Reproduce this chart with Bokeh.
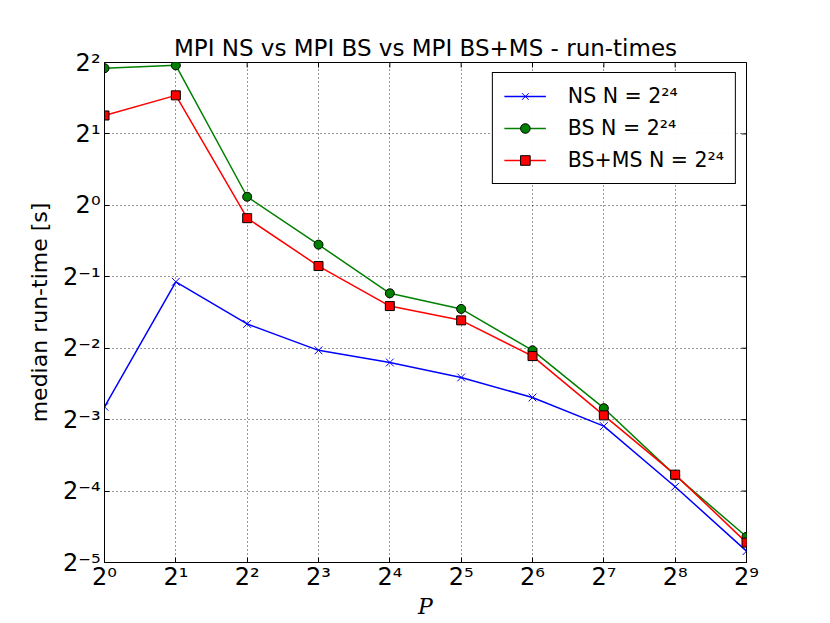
import math
from bokeh.plotting import figure
from bokeh.models import FixedTicker, CustomJSTickFormatter, Legend, LegendItem, ColumnDataSource
from bokeh.embed import file_html
from bokeh.resources import INLINE

# Data (median run-times in seconds)
P = [1, 2, 4, 8, 16, 32, 64, 128, 256, 512]
ns_times = [0.1416, 0.4763, 0.3164, 0.2449, 0.2176, 0.1882, 0.1550, 0.1174, 0.0652, 0.0349]
bs_times = [3.784, 3.891, 1.087, 0.683, 0.426, 0.366, 0.2449, 0.1397, 0.0728, 0.0401]
bsms_times = [2.392, 2.908, 0.883, 0.555, 0.3763, 0.3276, 0.2316, 0.1303, 0.0733, 0.0379]

x_ticks = [1, 2, 4, 8, 16, 32, 64, 128, 256, 512]
y_ticks = [2 ** -5, 2 ** -4, 2 ** -3, 2 ** -2, 2 ** -1, 1, 2, 4]

title_text = "MPI NS vs MPI BS vs MPI BS+MS - run-times"
x_label = "P"
y_label = "median run-time [s]"
labels = ["NS N = 2²⁴", "BS N = 2²⁴", "BS+MS N = 2²⁴"]

FONT = "DejaVu Sans"

p = figure(width=830, height=623, x_axis_type="log", y_axis_type="log",
           x_range=(x_ticks[0], x_ticks[-1]), y_range=(y_ticks[0], y_ticks[-1]),
           output_backend="svg", toolbar_location=None,
           min_border_left=104, min_border_right=84, min_border_top=62, min_border_bottom=61)

p.title.text = title_text
p.title.align = "center"
p.title.text_font = FONT
p.title.text_font_size = "23px"
p.title.text_font_style = "normal"
p.title.text_color = "black"
p.title.standoff = 4

fmt = CustomJSTickFormatter(code="""
const sup = {'0':'\u2070','1':'\u00b9','2':'\u00b2','3':'\u00b3','4':'\u2074','5':'\u2075','6':'\u2076','7':'\u2077','8':'\u2078','9':'\u2079','-':'\u207b'};
const e = Math.round(Math.log2(tick));
return '2' + String(e).split('').map(c => sup[c]).join('');
""")

for ax, ticks in ((p.xaxis[0], x_ticks), (p.yaxis[0], y_ticks)):
    ax.ticker = FixedTicker(ticks=ticks)
    ax.formatter = fmt
    ax.major_label_text_font = FONT
    ax.major_label_text_font_size = "24px"
    ax.major_label_text_color = "black"
    ax.major_tick_in = 5
    ax.major_tick_out = 0
    ax.minor_tick_line_color = None
    ax.axis_line_color = "black"
    ax.major_tick_line_color = "black"
    ax.axis_label_text_font_size = "22px"
    ax.axis_label_text_color = "black"

p.xaxis.axis_label = x_label
p.xaxis.axis_label_text_font = "DejaVu Serif"
p.xaxis.axis_label_text_font_style = "italic"
p.xaxis.major_label_standoff = 0
p.xaxis.axis_label_standoff = 0
p.yaxis.axis_label = y_label
p.yaxis.axis_label_text_font = FONT
p.yaxis.axis_label_text_font_style = "normal"
p.yaxis.major_label_standoff = 4
p.yaxis.axis_label_standoff = 8
p.yaxis.major_label_orientation = "horizontal"

p.outline_line_color = "black"
p.outline_line_width = 1
p.outline_line_alpha = 1

p.xgrid.ticker = FixedTicker(ticks=x_ticks)
p.ygrid.ticker = FixedTicker(ticks=y_ticks)
p.grid.grid_line_color = "black"
p.grid.grid_line_dash = "1 3"
p.grid.grid_line_width = 1
p.grid.grid_line_alpha = 0.8

# inward ticks on the top and right frame edges (half of each dash is clipped by the frame)
p.scatter(x_ticks, [y_ticks[-1]] * len(x_ticks), marker="dash", angle=math.pi / 2,
          size=10, line_color="black", line_width=1)
p.scatter([x_ticks[-1]] * len(y_ticks), y_ticks, marker="dash",
          size=10, line_color="black", line_width=1)

src = ColumnDataSource(dict(P=P, ns=ns_times, bs=bs_times, bsms=bsms_times))

l1 = p.line("P", "ns", source=src, color="#0000ff", line_width=1.5)
m1 = p.scatter("P", "ns", source=src, marker="x", size=11, line_color="#0000ff", line_width=1)
l2 = p.line("P", "bs", source=src, color="#008000", line_width=1.5)
m2 = p.scatter("P", "bs", source=src, marker="circle", size=9, fill_color="#008000", line_color="black", line_width=1)
l3 = p.line("P", "bsms", source=src, color="#ff0000", line_width=1.5)
m3 = p.scatter("P", "bsms", source=src, marker="square", size=9, fill_color="#ff0000", line_color="black", line_width=1)

legend = Legend(items=[LegendItem(label=labels[0], renderers=[l1, m1]),
                       LegendItem(label=labels[1], renderers=[l2, m2]),
                       LegendItem(label=labels[2], renderers=[l3, m3])],
                location="top_right")
legend.label_text_font = FONT
legend.label_text_font_size = "20.5px"
legend.label_text_color = "black"
legend.border_line_color = "black"
legend.border_line_width = 1.5
legend.border_line_alpha = 1
legend.glyph_width = 42
legend.glyph_height = 24
legend.label_height = 24
legend.spacing = 8
legend.padding = 11
legend.margin = 10
legend.label_standoff = 22
p.add_layout(legend)

open("out.html", "w").write(file_html(p, INLINE))
